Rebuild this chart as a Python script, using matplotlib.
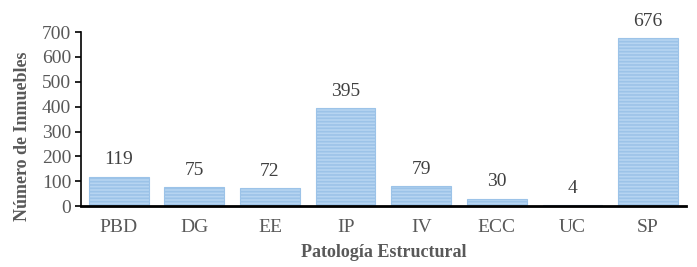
import matplotlib.pyplot as plt

categorias = ['PBD', 'DG', 'EE', 'IP', 'IV', 'ECC', 'UC', 'SP']
valores = [119, 75, 72, 395, 79, 30, 4, 676]

plt.rcParams['font.family'] = ['Liberation Serif', 'DejaVu Serif']
plt.rcParams['hatch.color'] = '#4a8bd0'
plt.rcParams['hatch.linewidth'] = 1.2

fig = plt.figure(figsize=(6.97, 2.67), dpi=100)
ax = fig.add_axes([0.116, 0.228, 0.868, 0.652])

x = range(len(categorias))
bars = ax.bar(x, valores, width=0.79, color='#b6d4f1', edgecolor='#9cc3e8',
              linewidth=0.8, hatch='-----')
for i, v in enumerate(valores):
    ax.annotate(str(v), (i, v), xytext=(0, 6), textcoords='offset points',
                ha='center', va='bottom', fontsize=14, color='#404040')

ax.set_xlim(-0.5, len(categorias) - 0.5)
ax.set_ylim(0, 700)
ax.set_yticks(range(0, 701, 100))
ax.set_xticks(list(x))
ax.set_xticklabels(categorias)
ax.tick_params(axis='y', labelsize=14, labelcolor='#595959', direction='out', length=4, width=1.2, pad=3)
ax.tick_params(axis='x', labelsize=14, labelcolor='#595959', length=0, pad=9)
ax.spines['top'].set_visible(False)
ax.spines['right'].set_visible(False)
ax.spines['left'].set_linewidth(1.2)
ax.spines['bottom'].set_linewidth(2)

ax.set_xlabel('Patología Estructural', fontsize=13, fontweight='bold', color='#595959', labelpad=6)
ax.set_ylabel('Número de Inmuebles', fontsize=13, fontweight='bold', color='#595959')
ax.yaxis.set_label_coords(-0.083, 0.40)

fig.savefig('out.png', dpi=100)
